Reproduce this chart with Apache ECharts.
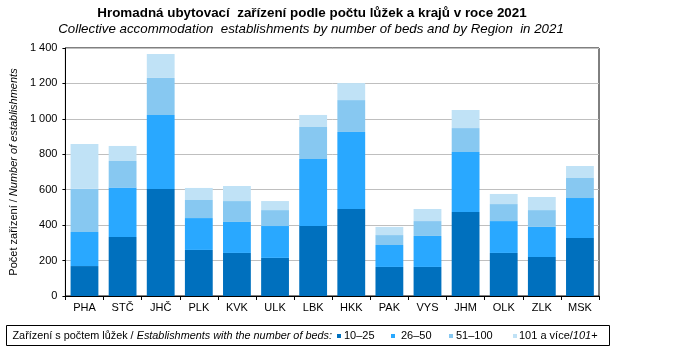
<!DOCTYPE html>
<html><head><meta charset="utf-8">
<script src="https://cdn.jsdelivr.net/npm/echarts@6/dist/echarts.min.js"></script>
<style>html,body{margin:0;padding:0;background:#fff}#c{width:674px;height:360px}</style>
</head><body><div id="c"></div>
<script>
const categories = ['PHA','STČ','JHČ','PLK','KVK','ULK','LBK','HKK','PAK','VYS','JHM','OLK','ZLK','MSK'];
const beds10_25  = [169,333,604,260,243,215,395,491,164,164,474,243,220,327];
const beds26_50  = [192,279,418,180,175,180,378,435,124,175,339,180,170,226];
const beds51_100 = [244,150,209,102,118, 90,181,180, 56, 84,135, 96, 95,113];
const beds101    = [253, 85,135, 68, 85, 51, 68, 96, 46, 68,102, 57, 74, 68];
const yTicks = [0,200,400,600,800,1000,1200,1400];
const seriesNames = ['10–25','26–50','51–100','101 a více/101+'];
const legendLabels = ['10–25','26–50','51–100','101 a více/{i|101}+'];
const colors = ['#0070BE','#29A8FF','#87C8F1','#C0E2F6'];

const chart = echarts.init(document.getElementById('c'));
const F = 'Liberation Sans, Arial, sans-serif';
const fmt = v => String(v).replace(/\B(?=(\d{3})+(?!\d))/g, ' ');
const data = [beds10_25, beds26_50, beds51_100, beds101];
const legSq = [337, 391, 449, 513];
const legTx = [344, 401, 456, 519];
const rich = {n:{fontFamily:F,fontSize:11,fill:'#000'},i:{fontFamily:F,fontSize:11,fontStyle:'italic',fill:'#000'}};
const richP = {n:{fontFamily:F,fontSize:10.85,fill:'#000'},i:{fontFamily:F,fontSize:10.85,fontStyle:'italic',fill:'#000'}};
const legendGraphics = [];
seriesNames.forEach((n,i)=>{
  legendGraphics.push({type:'rect', shape:{x:legSq[i], y:334, width:4, height:4}, style:{fill:colors[i]}});
  legendGraphics.push({type:'text', x:legTx[i], y:336, style:{text:'{n|'+legendLabels[i].replace('/{i|101}+','/}{i|101}{n|+')+'}', verticalAlign:'middle', rich:rich}});
});
chart.setOption({
  animation:false,
  textStyle:{fontFamily:F},
  grid:{left:62, top:48, width:537, height:248, show:true, borderColor:'#000', borderWidth:1, backgroundColor:'transparent'},
  xAxis:{type:'category', data:categories,
    axisLine:{lineStyle:{color:'#000'}},
    axisTick:{show:true, length:4, lineStyle:{color:'#000'}},
    axisLabel:{color:'#000', fontSize:11, margin:6}},
  yAxis:{type:'value', min:0, max:1400, interval:200,
    axisLine:{show:true, lineStyle:{color:'#000'}},
    axisTick:{show:true, length:3, lineStyle:{color:'#000'}},
    splitLine:{lineStyle:{color:'#BFBFBF'}},
    axisLabel:{color:'#000', fontSize:11, margin:8, formatter:v=>yTicks.includes(v)?fmt(v):''},
    name:'{n|Počet zařízení / }{i|Number of establishments}', nameLocation:'middle', nameRotate:90, nameGap:44,
    nameTextStyle:{rich:{n:{fontFamily:F,fontSize:11,color:'#000'},i:{fontFamily:F,fontSize:11,fontStyle:'italic',color:'#000'}}}},
  legend:{show:false},
  graphic:[
    {type:'text', x:312, y:13.5, style:{text:'Hromadná ubytovací  zařízení podle počtu lůžek a krajů v roce 2021', align:'center', verticalAlign:'middle',
      font:'bold 13.4px '+F, fill:'#000'}},
    {type:'text', x:311, y:29, style:{text:'Collective accommodation  establishments by number of beds and by Region  in 2021', align:'center', verticalAlign:'middle',
      font:'italic 13.3px '+F, fill:'#000'}},
    {type:'rect', shape:{x:6.5,y:325.5,width:603,height:20}, style:{fill:'none',stroke:'#000',lineWidth:1}},
    {type:'text', x:12.5, y:336, style:{text:'{n|Zařízení s počtem lůžek / }{i|Establishments with the number of beds:}', verticalAlign:'middle', rich:richP}}
  ].concat(legendGraphics),
  series: data.map((d,i)=>({name:seriesNames[i], type:'bar', stack:'s', data:d, barWidth:'73%',
    itemStyle:{color:colors[i]}}))
});
</script></body></html>
